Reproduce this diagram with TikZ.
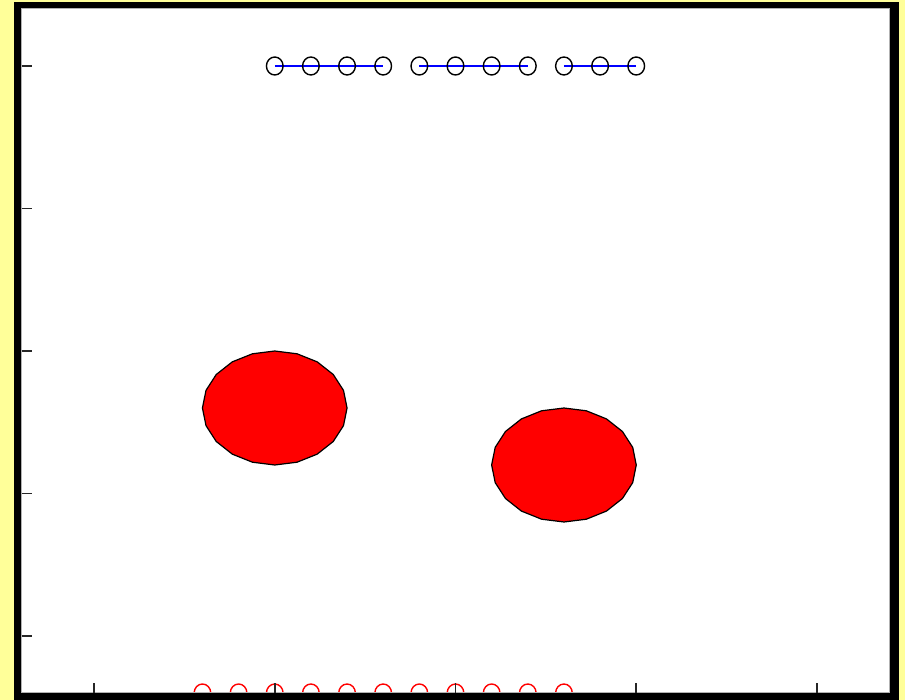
\documentclass[tikz,border=0pt]{standalone}
\usepackage{xcolor}
\usepackage{tikz}
\usetikzlibrary{shapes.geometric}
\definecolor{pageyellow}{RGB}{255,255,153}

\begin{document}
\begin{tikzpicture}[x=135.5625pt,y=106.875pt,
  mk/.style={draw,ellipse,minimum width=12.5pt,minimum height=13.5pt,inner sep=0pt,line width=1.05pt},
  blob/.style={draw=black,fill=red,line width=0.9pt},
  tk/.style={line width=1.4pt,black!85}]
  \useasboundingbox (-0.52006,-0.44912) rectangle (4.48686,4.46316);
  \fill[pageyellow] (-0.52006,-0.44912) rectangle (4.48686,4.46316);
  \fill[black] (-0.44260,-0.44912) rectangle (4.45367,4.44912);
  \fill[white] (-0.4,-0.4) rectangle (4.4,4.4);
  \begin{scope}
    \clip (-0.4,-0.4) rectangle (4.4,4.4);
    \foreach \k in {0,...,10}
      \node[mk,draw=red] (r\k) at ({0.6+0.2*\k},-0.4) {};
  \end{scope}
  \draw[gray!60,line width=0.75pt] (-0.4,-0.4) rectangle (4.4,4.4);
  \foreach \t in {0,...,4} {
    \draw[tk] (-0.4,\t) -- ++(0.055,0);
    \draw[tk] (\t,-0.4) -- ++(0,0.07);
  }
  \draw[blob] plot[samples=21,domain=0:360] ({1.0+0.4*cos(\x)},{1.6+0.4*sin(\x)}) -- cycle;
  \draw[blob] plot[samples=21,domain=0:360] ({2.6+0.4*cos(\x)},{1.2+0.4*sin(\x)}) -- cycle;
  \foreach \k in {0,...,10}
    \coordinate (m\k) at ({1+0.2*\k},4);
  \draw[blue,line width=1.7pt] (m0) -- (m1) -- (m2) -- (m3)
    (m4) -- (m5) -- (m6) -- (m7) (m8) -- (m9) -- (m10);
  \foreach \k in {0,...,10}
    \node[mk] (c\k) at (m\k) {};
\end{tikzpicture}
\end{document}
